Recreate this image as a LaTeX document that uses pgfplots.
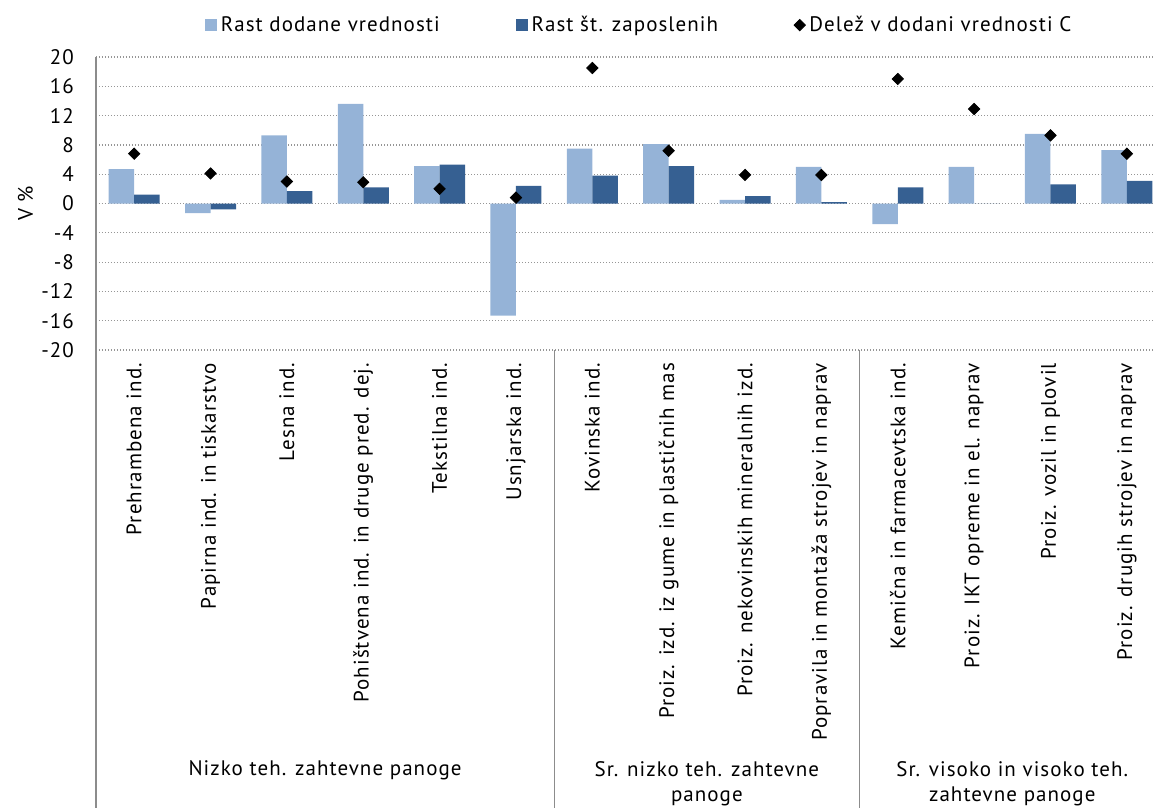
\documentclass[border=0pt]{standalone}
\usepackage{pgfplots}
\pgfplotsset{compat=1.18}
\usepackage{fontspec}
\setmainfont[LetterSpace=5]{PT Sans}
\definecolor{lightbar}{RGB}{149,179,215}
\definecolor{darkbar}{RGB}{54,96,146}
\definecolor{axgray}{RGB}{140,140,140}
\definecolor{gridgray}{RGB}{150,150,150}
\begin{document}
\begin{tikzpicture}[font=\fontsize{10.5}{12.6}\selectfont]
\begin{axis}[
  at={(0,0)}, anchor=south west,
  scale only axis, width=534.5pt, height=146.5pt,
  xmin=-0.5, xmax=13.5, ymin=-20, ymax=20,
  ytick={-20,-16,...,20},
  xtick={0,...,13},
  xticklabels={Prehrambena ind.,Papirna ind. in tiskarstvo,Lesna ind.,Pohištvena ind. in druge pred. dej.,Tekstilna ind.,Usnjarska ind.,Kovinska ind.,Proiz. izd. iz gume in plastičnih mas,Proiz. nekovinskih mineralnih izd.,Popravila in montaža strojev in naprav,Kemična in farmacevtska ind.,Proiz. IKT opreme in el. naprav,Proiz. vozil in plovil,Proiz. drugih strojev in naprav},
  xticklabel style={rotate=90, anchor=east},
  xticklabel shift=3pt,
  yticklabel shift=7.5pt,
  major tick length=0pt,
  axis line style={draw=none},
  ymajorgrids,
  major grid style={gridgray, line width=0.6pt, dash pattern=on 0.6pt off 0.9pt},
  extra y ticks={0}, extra y tick labels={},
  extra y tick style={grid style={solid, axgray, line width=0.6pt}},
  /pgf/number format/assume math mode=true,
  clip=false,
  legend columns=3,
  legend style={draw=none, fill=none, at={(0.509,1.109)}, anchor=center,
    font=\fontsize{10.5}{12.6}\selectfont,
    /tikz/every even column/.append style={column sep=36pt}},
  ylabel={V \%},
  ylabel style={at={(axis description cs:-0.066,0.5)}, anchor=center},
]
\addplot[ybar, bar width=12.75pt, bar shift=-6.375pt, fill=lightbar, draw=none,
  legend image code/.code={\fill[lightbar] (0pt,-3pt) rectangle (6pt,3pt);}]
  coordinates {(0,4.7) (1,-1.3) (2,9.3) (3,13.6) (4,5.1) (5,-15.3) (6,7.5) (7,8.1) (8,0.5) (9,5.0) (10,-2.8) (11,5.0) (12,9.5) (13,7.3)};
\addlegendentry{Rast dodane vrednosti}
\addplot[ybar, bar width=12.75pt, bar shift=6.375pt, fill=darkbar, draw=none,
  legend image code/.code={\fill[darkbar] (0pt,-3pt) rectangle (6pt,3pt);}]
  coordinates {(0,1.2) (1,-0.8) (2,1.7) (3,2.2) (4,5.3) (5,2.4) (6,3.8) (7,5.1) (8,1.0) (9,0.2) (10,2.2) (11,0) (12,2.6) (13,3.1)};
\addlegendentry{Rast št. zaposlenih}
\addplot[only marks, mark=square*, mark size=2pt, mark options={rotate=45, fill=black, draw=black}]
  coordinates {(0,6.8) (1,4.1) (2,3.0) (3,2.9) (4,2.0) (5,0.8) (6,18.5) (7,7.2) (8,3.9) (9,3.9) (10,17.0) (11,12.9) (12,9.3) (13,6.8)};
\addlegendentry{Delež v dodani vrednosti C}
\draw[axgray, line width=0.6pt] (axis cs:-0.5,20) -- (axis cs:-0.5,-20) -- ++(0pt,-229pt);
\draw[axgray, line width=0.6pt] (axis cs:5.5,-20) -- ++(0pt,-229pt);
\draw[axgray, line width=0.6pt] (axis cs:9.5,-20) -- ++(0pt,-229pt);
\node[align=center] at ([yshift=-210pt]axis cs:2.5,-20) {Nizko teh. zahtevne panoge};
\node[align=center] at ([yshift=-217pt]axis cs:7.5,-20) {Sr. nizko teh. zahtevne\\panoge};
\node[align=center] at ([yshift=-217pt]axis cs:11.5,-20) {Sr. visoko in visoko teh.\\zahtevne panoge};
\end{axis}
\pgfresetboundingbox
\useasboundingbox (-48pt,-229pt) rectangle (529pt,175pt);
\end{tikzpicture}
\end{document}
